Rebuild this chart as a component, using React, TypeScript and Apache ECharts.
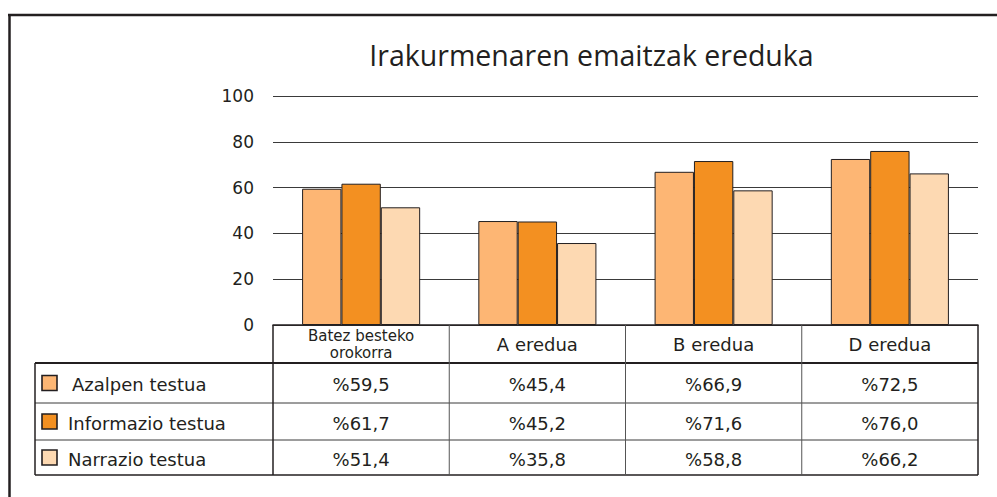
import React, { useEffect, useRef } from "react";
import * as echarts from "echarts";

const title = "Irakurmenaren emaitzak ereduka";
const categories = ["Batez besteko\norokorra", "A eredua", "B eredua", "D eredua"];
const seriesNames = ["Azalpen testua", "Informazio testua", "Narrazio testua"];
const azalpen = [59.5, 45.4, 66.9, 72.5];
const informazio = [61.7, 45.2, 71.6, 76.0];
const narrazio = [51.4, 35.8, 58.8, 66.2];
const yMin = 0;
const yMax = 100;
const yInterval = 20;

const seriesValues = [azalpen, informazio, narrazio];
const colors = ["#FDB674", "#F39021", "#FDD9B2"];

const W = 997;
const H = 497;
const GL = 273;
const GR = 978;
const GT = 96;
const GB = 325;
const TL = 35;
const rowLines = [325, 363, 403, 440, 475];
const INK = "#231f20";
const TABLE_FONT = "'DejaVu Sans', sans-serif";

const fmt = (v: number) => "%" + v.toFixed(1).replace(".", ",");

export default function App() {
  const ref = useRef<HTMLDivElement>(null);
  useEffect(() => {
    document.body.style.margin = "0";
    if (!ref.current) return;
    const chart = echarts.init(ref.current, undefined, { renderer: "svg" });
    const cw = (GR - GL) / categories.length;
    const graphic: any[] = [];

    // outer frame
    graphic.push({ type: "line", shape: { x1: 8, y1: 15, x2: W, y2: 15 }, style: { stroke: INK, lineWidth: 2.5 } });
    graphic.push({ type: "line", shape: { x1: 9.5, y1: 14, x2: 9.5, y2: H }, style: { stroke: INK, lineWidth: 2.5 } });

    // title
    graphic.push({
      type: "text",
      x: 591.5,
      y: 55,
      style: {
        text: title,
        fontSize: 28.5,
        fontFamily: "'Open Sans', sans-serif",
        fill: INK,
        align: "center",
        verticalAlign: "middle",
      },
    });

    // table lines
    const hl = (y: number, x1: number, w: number, color = "#3a3a3a") =>
      graphic.push({ type: "line", z: 10, shape: { x1, y1: y, x2: GR, y2: y }, style: { stroke: color, lineWidth: w } });
    hl(rowLines[1], TL, 2.2, INK);
    hl(rowLines[2], TL, 1);
    hl(rowLines[3], TL, 1);
    hl(rowLines[4], TL, 1.5, INK);
    graphic.push({ type: "line", z: 10, shape: { x1: TL, y1: rowLines[1], x2: TL, y2: rowLines[4] }, style: { stroke: INK, lineWidth: 1.5 } });
    for (let i = 0; i <= categories.length; i++) {
      const x = GL + i * cw;
      const outer = i === 0 || i === categories.length;
      graphic.push({
        type: "line",
        z: 10,
        shape: { x1: x, y1: rowLines[0], x2: x, y2: rowLines[4] },
        style: { stroke: outer ? INK : "#555", lineWidth: outer ? 1.5 : 1 },
      });
    }

    // header row (categories)
    for (let c = 0; c < categories.length; c++) {
      const multi = categories[c].includes("\n");
      graphic.push({
        type: "text",
        z: 10,
        x: GL + cw * (c + 0.5),
        y: (rowLines[0] + rowLines[1]) / 2 + 0.5,
        style: {
          text: categories[c],
          fontSize: multi ? 15 : 18,
          lineHeight: 17,
          fontFamily: TABLE_FONT,
          fill: INK,
          align: "center",
          verticalAlign: "middle",
        },
      });
    }

    // rows: legend + values
    for (let r = 0; r < seriesNames.length; r++) {
      const cy = (rowLines[r + 1] + rowLines[r + 2]) / 2;
      graphic.push({
        type: "rect",
        z: 10,
        shape: { x: 42, y: cy - 7.5, width: 15, height: 15 },
        style: { fill: colors[r], stroke: INK, lineWidth: 1.6 },
      });
      graphic.push({
        type: "text",
        z: 10,
        x: r === 0 ? 72 : 68,
        y: cy + 1.5,
        style: { text: seriesNames[r], fontSize: 18, fontFamily: TABLE_FONT, fill: INK, align: "left", verticalAlign: "middle" },
      });
      for (let c = 0; c < categories.length; c++) {
        graphic.push({
          type: "text",
          z: 10,
          x: GL + cw * (c + 0.5),
          y: cy + 1.5,
          style: {
            text: fmt(seriesValues[r][c]),
            fontSize: 18,
            fontFamily: TABLE_FONT,
            fill: INK,
            align: "center",
            verticalAlign: "middle",
          },
        });
      }
    }

    chart.setOption({
      animation: false,
      grid: { left: GL, right: W - GR, top: GT, bottom: H - GB, containLabel: false },
      xAxis: {
        type: "category",
        data: categories,
        axisLine: { show: true, lineStyle: { color: INK, width: 1.5 } },
        axisTick: { show: false },
        axisLabel: { show: false },
      },
      yAxis: {
        type: "value",
        min: yMin,
        max: yMax,
        interval: yInterval,
        axisLine: { show: false },
        axisTick: { show: false },
        splitLine: { show: true, lineStyle: { color: "#3a3a3a", width: 1 } },
        axisLabel: { margin: 19, fontSize: 17, fontFamily: TABLE_FONT, color: INK },
      },
      series: seriesNames.map((name, i) => ({
        name,
        type: "bar",
        data: seriesValues[i],
        barGap: "0%",
        barCategoryGap: "33%",
        itemStyle: { color: colors[i], borderColor: INK, borderWidth: 1 },
      })),
      graphic,
    });
    return () => chart.dispose();
  }, []);
  return <div ref={ref} style={{ width: W, height: H }} />;
}
